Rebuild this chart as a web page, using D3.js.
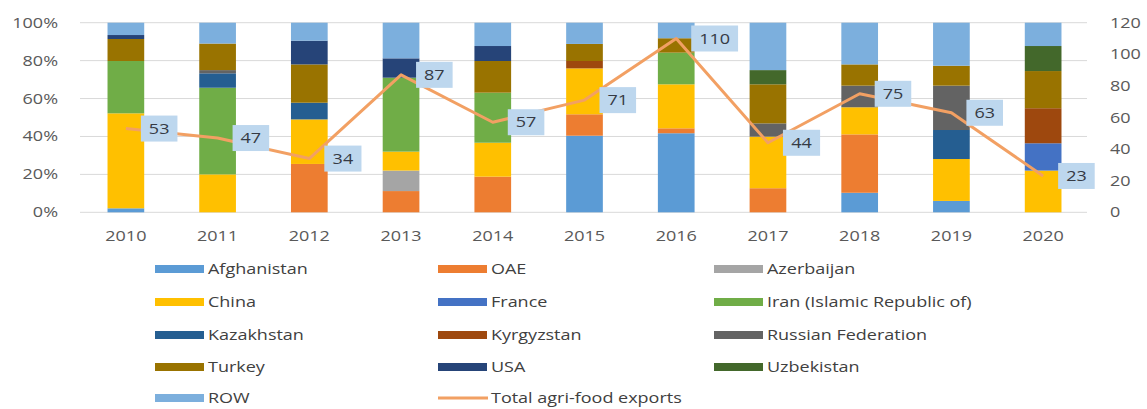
<!DOCTYPE html>
<html>
<head>
<meta charset="utf-8">
<script src="https://cdn.jsdelivr.net/npm/d3@7"></script>
<style>
  body { margin: 0; background: #fff; }
  text { font-family: "Open Sans", sans-serif; }
</style>
</head>
<body>
<svg width="1147" height="409"></svg>
<script>
const years = ["2010", "2011", "2012", "2013", "2014", "2015", "2016", "2017", "2018", "2019", "2020"];

// shares of each partner, in % of the year's exports
const afghanistan = [2.1, 0, 0, 0, 0, 40.4, 41.7, 0, 10.3, 6, 0];
const oae         = [0, 0, 25.5, 11.2, 18.8, 11.3, 2.6, 12.7, 30.8, 0, 0];
const azerbaijan  = [0, 0, 0, 10.8, 0, 0, 0, 0, 0, 0, 0];
const china       = [50.1, 20, 23.5, 10, 17.9, 24.2, 23.2, 27.2, 14.3, 22.1, 22];
const france      = [0, 0, 0, 0, 0, 0, 0, 0, 0, 0, 14.4];
const iran        = [27.6, 45.7, 0, 39, 26.4, 0, 16.7, 0, 0, 0, 0];
const kazakhstan  = [0, 7.6, 8.8, 0, 0, 0, 0, 0, 0, 15.3, 0];
const kyrgyzstan  = [0, 0, 0, 0, 0, 3.9, 0, 0, 0, 0, 18.5];
const russia      = [0, 1.7, 0, 0, 0, 0, 0, 7, 11.4, 23.4, 0];
const turkey      = [11.6, 14, 20.2, 0, 16.7, 9, 7.6, 20.6, 11.2, 10.5, 19.6];
const usa         = [2.1, 0, 12.5, 10.2, 7.9, 0, 0, 0, 0, 0, 0];
const uzbekistan  = [0, 0, 0, 0, 0, 0, 0, 7.5, 0, 0, 13.2];
const row         = [6.5, 11, 9.5, 18.8, 12.3, 11.2, 8.2, 25, 22, 22.7, 12.3];

// total agri-food exports (right axis)
const totalExports = [53, 47, 34, 87, 57, 71, 110, 44, 75, 63, 23];

const seriesNames = ["Afghanistan", "OAE", "Azerbaijan", "China", "France", "Iran (Islamic Republic of)",
  "Kazakhstan", "Kyrgyzstan", "Russian Federation", "Turkey", "USA", "Uzbekistan", "ROW"];
const seriesValues = [afghanistan, oae, azerbaijan, china, france, iran,
  kazakhstan, kyrgyzstan, russia, turkey, usa, uzbekistan, row];
const seriesColors = ["#5B9BD5", "#ED7D31", "#A5A5A5", "#FFC000", "#4472C4", "#70AD47",
  "#255E91", "#9E480E", "#636363", "#997300", "#264478", "#43682B", "#7CAFDD"];

const leftTicks = [0, 0.2, 0.4, 0.6, 0.8, 1];
const rightTicks = [0, 20, 40, 60, 80, 100, 120];

const svg = d3.select("svg");
const stretch = 1.2;   // the source image is slightly stretched horizontally

const table = years.map((y, i) => {
  const o = { year: y };
  seriesNames.forEach((n, k) => { o[n] = seriesValues[k][i] / 100; });
  return o;
});

const x = d3.scaleBand().domain(years).range([80, 1089]).paddingInner(0.6).paddingOuter(0.3);
const y = d3.scaleLinear().domain([0, 1]).range([212.3, 22.7]);
const yR = d3.scaleLinear().domain([0, 120]).range([212.3, 22.7]);
const color = d3.scaleOrdinal().domain(seriesNames).range(seriesColors);

function stext(g, tx, ty, str, anchor) {
  return g.append("text")
    .attr("transform", `translate(${tx},${ty}) scale(${stretch},1)`)
    .attr("text-anchor", anchor)
    .text(str);
}

// gridlines
svg.append("g")
  .selectAll("line")
  .data(leftTicks)
  .join("line")
  .attr("x1", 80).attr("x2", 1087)
  .attr("y1", d => y(d)).attr("y2", d => y(d))
  .attr("stroke", "#D9D9D9")
  .attr("stroke-width", 1);

// stacked bars
const stacked = d3.stack().keys(seriesNames)(table);
svg.append("g")
  .selectAll("g")
  .data(stacked)
  .join("g")
  .attr("fill", d => color(d.key))
  .selectAll("rect")
  .data(d => d)
  .join("rect")
  .attr("x", d => x(d.data.year))
  .attr("width", x.bandwidth())
  .attr("y", d => y(d[1]))
  .attr("height", d => y(d[0]) - y(d[1]));

// left axis labels
const axL = svg.append("g").attr("fill", "#595959").style("font-size", "15px");
leftTicks.forEach(t => stext(axL, 58, y(t) + 5, d3.format(".0%")(t), "end"));

// right axis labels
const axR = svg.append("g").attr("fill", "#595959").style("font-size", "15px");
rightTicks.forEach(t => stext(axR, 1110, yR(t) + 5, t, "start"));

// x labels
const axX = svg.append("g").attr("fill", "#595959").style("font-size", "15px");
years.forEach(yr => stext(axX, x(yr) + x.bandwidth() / 2, 241, yr, "middle"));

// total exports line
const cx = d => x(d) + x.bandwidth() / 2;
svg.append("path")
  .datum(years.map((yr, i) => [cx(yr), yR(totalExports[i])]))
  .attr("fill", "none")
  .attr("stroke", "#F2A063")
  .attr("stroke-width", 3)
  .attr("stroke-linejoin", "round")
  .attr("d", d3.line());

// data labels
const lab = svg.append("g").style("font-size", "15px");
years.forEach((yr, i) => {
  const g = lab.append("g");
  const px = cx(yr) + 15;
  const py = yR(totalExports[i]);
  const rect = g.append("rect").attr("fill", "#BDD7EE");
  const t = stext(g, 0, py + 5, totalExports[i], "middle").attr("fill", "#353A44");
  const w = t.node().getBBox().width * stretch + 16;
  t.attr("transform", `translate(${px + w / 2},${py + 5}) scale(${stretch},1)`);
  rect.attr("x", px).attr("y", py - 13).attr("width", w).attr("height", 26);
});

// legend
const legendCols = [155, 438, 714];
const legendRows = [269, 302, 335, 367, 398];
const legendItems = seriesNames.map((n, i) => ({ name: n, color: seriesColors[i], type: "bar" }))
  .concat([{ name: "Total agri-food exports", color: "#F2A063", type: "line" }]);

const legend = svg.append("g").style("font-size", "15px");
legendItems.forEach((d, i) => {
  const lx = legendCols[i % 3];
  const ly = legendRows[Math.floor(i / 3)];
  if (d.type === "bar") {
    legend.append("rect").attr("x", lx).attr("y", ly - 4).attr("width", 49).attr("height", 8).attr("fill", d.color);
  } else {
    legend.append("line").attr("x1", lx).attr("x2", lx + 50).attr("y1", ly).attr("y2", ly)
      .attr("stroke", d.color).attr("stroke-width", 3);
  }
  stext(legend, lx + 53, ly + 5, d.name, "start").attr("fill", "#404040");
});
</script>
</body>
</html>
